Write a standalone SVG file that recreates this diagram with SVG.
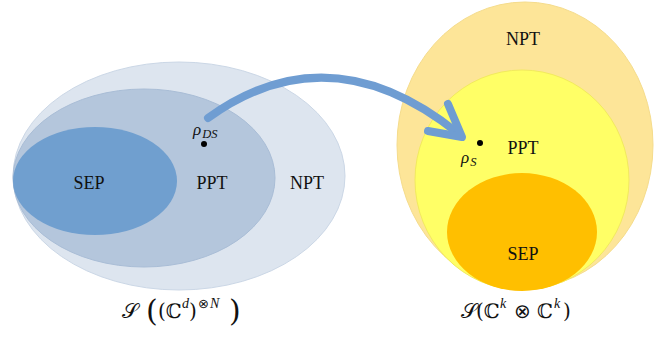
<svg xmlns="http://www.w3.org/2000/svg" width="670" height="339" viewBox="0 0 670 339">
<style>
.lbl{font-family:"Liberation Serif","DejaVu Serif",serif;font-size:18px;fill:#111;text-anchor:middle;dominant-baseline:central}
.math{font-family:"DejaVu Serif","Liberation Serif",serif;fill:#111}
.it{font-family:"Liberation Serif","DejaVu Serif",serif;font-style:italic;fill:#111}
.conn{fill:none;stroke:#6f9dd2;stroke-width:8;stroke-linecap:round;stroke-linejoin:round}
</style>
<rect width="670" height="339" fill="#fff"/>
<g id="left-npt">
<ellipse cx="179" cy="176" rx="166" ry="114" fill="#dde5ef" stroke="#cbd7e6" stroke-width="1"/>
<text class="lbl" x="307" y="183">NPT</text>
</g>
<g id="left-ppt">
<ellipse cx="144" cy="178" rx="131" ry="89" fill="#b4c6dc" stroke="#a9bdd6" stroke-width="1"/>
<text class="lbl" x="212" y="183">PPT</text>
</g>
<g id="left-sep">
<ellipse cx="95" cy="181" rx="82" ry="54" fill="#709fcf"/>
<text class="lbl" x="89" y="183">SEP</text>
</g>
<g id="rho-ds">
<circle cx="204" cy="144" r="3" fill="#000"/>
<text class="it" x="193" y="135" font-size="17">ρ<tspan font-size="12.5" dx="1" dy="3">DS</tspan></text>
</g>
<g id="right-npt">
<ellipse cx="525" cy="145" rx="128" ry="143" fill="#fde598" stroke="#f5dc8c" stroke-width="1"/>
<text class="lbl" x="523" y="39">NPT</text>
</g>
<g id="right-ppt">
<ellipse cx="522" cy="180" rx="107" ry="110" fill="#ffff66" stroke="#f2ea5e" stroke-width="1"/>
<text class="lbl" x="523" y="148">PPT</text>
</g>
<g id="right-sep">
<ellipse cx="522" cy="232" rx="75" ry="59" fill="#ffbf00"/>
<text class="lbl" x="523" y="254">SEP</text>
</g>
<g id="rho-s">
<circle cx="480" cy="143" r="3" fill="#000"/>
<text class="it" x="461" y="163" font-size="17">ρ<tspan font-size="12.5" dx="1" dy="3">S</tspan></text>
</g>
<g id="connectors">
<path class="conn" d="M208,118 Q330,30 459,134"/>
<path class="conn" d="M428,131 L462,137 L448,104"/>
</g>
<g id="caption-left">
<text class="math" font-size="20"><tspan x="122" y="318" font-size="21">𝒮</tspan><tspan x="146" y="321" font-size="30">(</tspan><tspan x="158" y="318">(ℂ</tspan><tspan x="182" y="308" font-size="14" class="it">d</tspan><tspan x="189" y="318">)</tspan><tspan x="198" y="308" font-size="13" font-family="DejaVu Sans">⊗</tspan><tspan x="210" y="308" font-size="14" class="it">N</tspan><tspan x="229" y="321" font-size="30">)</tspan></text>
</g>
<g id="caption-right">
<text class="math" font-size="20"><tspan x="461" y="318" font-size="21">𝒮</tspan><tspan x="476" y="318">(ℂ</tspan><tspan x="500" y="308" font-size="14" class="it">k</tspan><tspan x="514" y="318" font-family="DejaVu Sans">⊗</tspan><tspan x="537" y="318">ℂ</tspan><tspan x="554" y="308" font-size="14" class="it">k</tspan><tspan x="563" y="318">)</tspan></text>
</g>
</svg>
